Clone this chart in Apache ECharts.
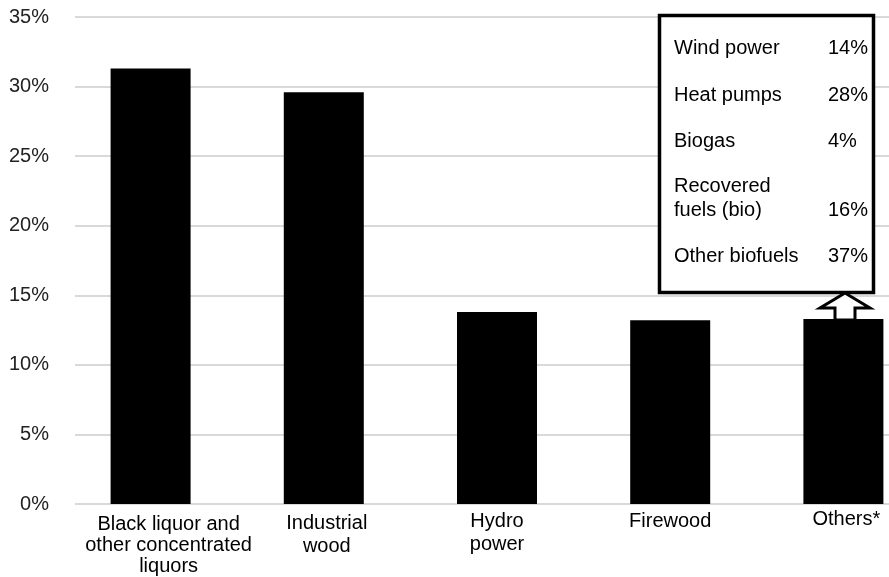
<!DOCTYPE html>
<html>
<head>
<meta charset="utf-8">
<script src="https://cdn.jsdelivr.net/npm/echarts@6/dist/echarts.min.js"></script>
<style>
html,body{margin:0;padding:0;background:#fff;}
#chart{width:889px;height:577px;}
</style>
</head>
<body>
<div id="chart"></div>
<script>
const categories = [
  'Black liquor and\nother concentrated\nliquors',
  'Industrial\nwood',
  'Hydro\npower',
  'Firewood',
  'Others*'
];
const shares = [31.3, 29.6, 13.8, 13.2, 13.3];
const yTicks = { min: 0, max: 35, interval: 5 };

const othersParts = ['Wind power', 'Heat pumps', 'Biogas', 'Recovered\nfuels (bio)', 'Other biofuels'];
const othersShares = [14, 28, 4, 16, 37];

// layout (not data): per-label nudges [top, left, lineHeight]
const labelNudge = [[6, 36, 21], [4, 6, 23], [2, 0, 23], [2, 0, 22], [0, 6, 22]];
const rowLabelY = [48, 95, 141, 198, 256];
const rowValueY = [48, 95, 141, 210, 256];
const FONT = 'Liberation Sans, Arial, sans-serif';

const chart = echarts.init(document.getElementById('chart'), null, { renderer: 'canvas' });

const graphics = [
  {
    type: 'rect', z: 10,
    shape: { x: 659.5, y: 15.5, width: 214, height: 277 },
    style: { fill: '#fff', stroke: '#000', lineWidth: 3.5 }
  },
  {
    type: 'polygon', z: 10,
    shape: { points: [[845, 293], [870, 308], [855, 308], [855, 320], [835, 320], [835, 308], [820, 308]] },
    style: { fill: '#fff', stroke: '#000', lineWidth: 3 }
  }
];
othersParts.forEach((p, i) => {
  graphics.push({
    type: 'text', z: 11, x: 674, y: rowLabelY[i],
    style: { text: p, fill: '#000', font: '20px ' + FONT, verticalAlign: 'middle', align: 'left', lineHeight: 24 }
  });
  graphics.push({
    type: 'text', z: 11, x: 828, y: rowValueY[i],
    style: { text: othersShares[i] + '%', fill: '#000', font: '20px ' + FONT, verticalAlign: 'middle', align: 'left' }
  });
});

const xData = categories.map((c, i) => ({
  value: c,
  textStyle: { padding: [labelNudge[i][0], 0, 0, labelNudge[i][1]], lineHeight: labelNudge[i][2] }
}));

chart.setOption({
  animation: false,
  backgroundColor: '#fff',
  textStyle: { fontFamily: FONT },
  grid: [
    { left: 75, right: 0, top: 17, bottom: 73, containLabel: false, outerBoundsMode: 'none' },
    { left: 64, right: -41, top: 17, bottom: 73, containLabel: false, outerBoundsMode: 'none' }
  ],
  xAxis: [
    { type: 'category', gridIndex: 0, data: categories, show: false },
    {
      type: 'category', gridIndex: 1, data: xData,
      axisLine: { show: false }, axisTick: { show: false },
      axisLabel: { color: '#000', fontSize: 20, lineHeight: 22, margin: 4, interval: 0, fontFamily: FONT }
    }
  ],
  yAxis: [
    {
      type: 'value', gridIndex: 0, min: yTicks.min, max: yTicks.max, interval: yTicks.interval,
      axisLine: { show: false }, axisTick: { show: false },
      axisLabel: { formatter: '{value}%', color: '#222', fontSize: 20, margin: 26, padding: [6, 0, 0, 0], fontFamily: FONT },
      splitLine: { show: true, lineStyle: { color: '#d9d9d9', width: 2 } }
    },
    {
      type: 'value', gridIndex: 1, min: yTicks.min, max: yTicks.max, interval: yTicks.interval,
      show: false, splitLine: { show: false }
    }
  ],
  series: [{
    type: 'bar', xAxisIndex: 1, yAxisIndex: 1,
    data: shares, barWidth: 80,
    itemStyle: { color: '#000' }
  }],
  graphic: graphics
});
</script>
</body>
</html>
